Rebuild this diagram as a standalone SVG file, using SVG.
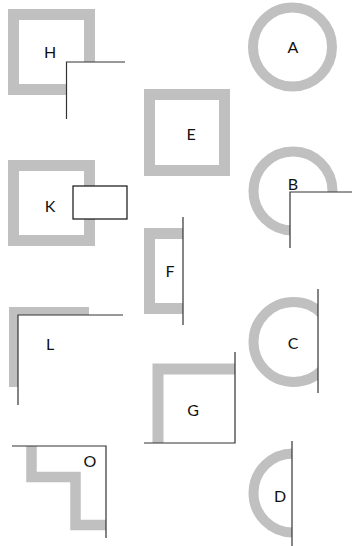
<svg xmlns="http://www.w3.org/2000/svg" width="352" height="546" viewBox="0 0 352 546">
<style>
.g{fill:none;stroke:#c0c0c0;stroke-width:11;stroke-linejoin:miter}
.r{fill:none;stroke:#c0c0c0;stroke-width:10}
.w{fill:#fff;stroke:none}
.ln{fill:none;stroke:#333;stroke-width:1.2}
text{font-family:Lato,"Open Sans",sans-serif;font-size:16px;fill:#111;text-anchor:middle}
</style>
<rect width="352" height="546" fill="#fff"/>
<g id="H">
<rect class="g" x="13.5" y="14.5" width="76" height="75"/>
<rect class="w" x="66.5" y="62" width="45" height="45"/>
<path class="ln" d="M125,62 H66.5 V119"/>
<text x="50" y="58">H</text>
</g>
<g id="E">
<rect class="g" x="149.5" y="94.5" width="75" height="76"/>
<text x="191" y="140">E</text>
</g>
<g id="A">
<circle class="r" cx="292.5" cy="47" r="39.5"/>
<text x="293" y="53">A</text>
</g>
<g id="K">
<rect class="g" x="13.5" y="165.5" width="76" height="75"/>
<rect x="73" y="186" width="54" height="33" fill="#fff" stroke="#111" stroke-width="1.2"/>
<text x="50" y="212">K</text>
</g>
<g id="F">
<path class="g" d="M183,233.5 H149.5 V308.5 H183"/>
<path class="ln" d="M183,217 V325"/>
<text x="170" y="277">F</text>
</g>
<g id="B">
<circle class="r" cx="293" cy="191" r="39.5"/>
<rect class="w" x="290" y="192" width="62" height="56"/>
<path class="ln" d="M352,192 H290 V248"/>
<text x="293" y="190">B</text>
</g>
<g id="C">
<circle class="r" cx="293.5" cy="342" r="40"/>
<rect class="w" x="318" y="290" width="34" height="105"/>
<path class="ln" d="M318,289 V393"/>
<text x="293" y="349">C</text>
</g>
<g id="D">
<circle class="r" cx="293" cy="493" r="39.5"/>
<rect class="w" x="292" y="440" width="60" height="106"/>
<path class="ln" d="M292,441 V546"/>
<text x="280" y="502">D</text>
</g>
<g id="L">
<path class="g" d="M14.5,387 V312.5 H89"/>
<rect class="w" x="18" y="315" width="80" height="80"/>
<path class="ln" d="M123,315 H18 V405"/>
<text x="50" y="350">L</text>
</g>
<g id="G">
<path class="g" d="M158,443 V369 H235"/>
<path class="ln" d="M235,352 V443 H144"/>
<text x="193" y="416">G</text>
</g>
<g id="O">
<path class="g" style="stroke-width:10.5" d="M31.5,446 V477 H75.5 V525 H106"/>
<path class="ln" d="M12,446 H106 V538"/>
<text x="90" y="467">O</text>
</g>
</svg>
